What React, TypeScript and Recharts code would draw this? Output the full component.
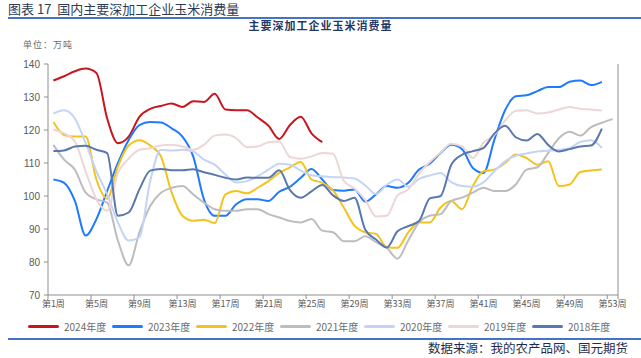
import React from 'react';
import { LineChart, Line, XAxis, YAxis, ReferenceLine } from 'recharts';

// ---- data ----
const weeks = [
  1, 2, 3, 4, 5, 6, 7, 8, 9, 10, 11, 12, 13, 14, 15, 16, 17, 18, 19, 20, 21, 22, 23, 24, 25, 26, 27,
  28, 29, 30, 31, 32, 33, 34, 35, 36, 37, 38, 39, 40, 41, 42, 43, 44, 45, 46, 47, 48, 49, 50, 51, 52, 53,
];
const xLabelWeeks = [1, 5, 9, 13, 17, 21, 25, 29, 33, 37, 41, 45, 49, 53];
const yTicks = [70, 80, 90, 100, 110, 120, 130, 140];

const y2024 = [135, 136.3, 137.8, 138.6, 137.3, 123.5, 116, 118, 124, 126.4, 127.3, 128, 127, 128.7, 128.5, 131, 126.2, 126, 126, 123.8, 121.3, 117.3, 121.5, 124, 119, 116.3];
const y2023 = [105, 104, 98.5, 88, 93, 101.5, 110, 117, 121.5, 122.4, 122.3, 120.5, 118, 112, 99, 94, 94, 97.5, 99, 99, 98.5, 101.3, 102.8, 105.5, 108.2, 105, 101.8, 101.6, 102, 98.3, 100.5, 103, 102.5, 104, 108, 109.8, 113, 115.5, 114.2, 108.5, 107, 117, 126, 130.2, 130.5, 131.8, 133, 133, 134.6, 135, 133.6, 134.6];
const y2022 = [122.4, 118.5, 118, 118, 105, 99.2, 109, 115.3, 116.9, 115.3, 112, 101, 94, 92.5, 92.8, 91.8, 100.5, 101.5, 100.8, 102.5, 104.5, 107, 108.7, 110.3, 105, 104, 101.7, 96.5, 91, 89, 88.5, 84.5, 84.3, 89, 92, 92, 96.5, 98.5, 96, 103, 107.5, 108, 110, 112.6, 111.5, 109.5, 110.5, 103, 103.5, 107.3, 107.7, 108];
const y2021 = [115.5, 111, 108, 101, 99, 98, 86.5, 79, 89, 97, 101, 102.5, 103, 100.5, 98, 96, 95.5, 95.5, 96, 96, 94.5, 93.5, 92.4, 92, 93, 89.5, 89, 86.3, 86.3, 87.8, 86, 84.3, 81, 86.5, 92, 94, 94.5, 98.5, 99.5, 101, 102.5, 101.5, 101.5, 103.5, 108, 108.7, 113, 117.5, 119.5, 118.3, 120.9, 122.2, 123.3];
const y2020 = [125, 126, 123.5, 116, 107.5, 100.5, 92, 86.5, 87.5, 104.5, 114, 113.8, 114, 113.5, 111, 109.5, 106.5, 104.1, 104.5, 106, 108, 109.8, 109.5, 107.7, 106.3, 106, 105.7, 105.6, 105.3, 103.2, 100.6, 103.4, 105, 102.8, 105.2, 106.2, 107, 104.2, 103, 102.8, 104.2, 107.5, 110.5, 112.2, 112.9, 113.5, 113.7, 114, 114.5, 116.4, 116.9, 114.6];
const y2019 = [120.1, 119, 116.5, 107.5, 99, 95.5, 107, 111.3, 114, 114.5, 115.3, 115.5, 115, 114, 115.5, 118.3, 118.6, 117.5, 114.8, 115, 116.3, 116.5, 111.8, 111.3, 112, 113, 112.8, 104.6, 102.3, 98.8, 93.8, 94, 100.2, 102, 106.8, 110.3, 113.2, 115.8, 115, 111.5, 116.2, 118.5, 122.8, 125.8, 126, 125, 125.3, 126.2, 127, 126.4, 126.2, 125.9];
const y2018 = [113.6, 113.8, 115, 115.2, 114, 113, 94, 95, 102, 107.7, 108.2, 107.8, 107.8, 108.1, 107.2, 106.4, 105.5, 105, 105.6, 105.5, 105.5, 107.8, 101.8, 99.5, 101.4, 103.3, 100.2, 98.5, 99.5, 89.8, 86.8, 84.4, 89.3, 90.9, 92.4, 99.3, 100, 109.5, 112.5, 113.6, 114.6, 118.9, 121.3, 117.8, 116.8, 118.8, 115.5, 113.5, 114.2, 115, 115.3, 120.4];

const seriesNames = ['2024年度', '2023年度', '2022年度', '2021年度', '2020年度', '2019年度', '2018年度'];
const seriesValues = [y2024, y2023, y2022, y2021, y2020, y2019, y2018];
const seriesColors = ['#C8161E', '#1F7AFF', '#F4C21C', '#BDBDBD', '#C3D4F6', '#EDD6D6', '#5878AE'];
const seriesKeys = ['s2024', 's2023', 's2022', 's2021', 's2020', 's2019', 's2018'];

const data = weeks.map((w, i) => {
  const row: Record<string, number | undefined> = { week: w };
  seriesKeys.forEach((k, s) => {
    row[k] = seriesValues[s][i];
  });
  return row;
});

// ---- style ----
const W = 641;
const H = 358;
const AXIS = '#8E8E8E';
const TICK_SIZE = 4;
const TICK_MARGIN = 2;
const FONT = '"Liberation Sans", Arial, "Noto Sans CJK SC", sans-serif';
const CJK = '"Noto Sans CJK SC", "Liberation Sans", sans-serif';

const XTick = (props: any) => {
  const { x, y, payload, width } = props;
  const band = (typeof width === 'number' && width > 0 ? width : 570) / weeks.length;
  const axisY = y - TICK_SIZE - TICK_MARGIN;
  const isLast = payload.value === weeks[weeks.length - 1];
  return (
    <g>
      <line x1={x - band / 2} x2={x - band / 2} y1={axisY} y2={axisY + TICK_SIZE} stroke={AXIS} />
      {isLast && (
        <line x1={x + band / 2} x2={x + band / 2} y1={axisY} y2={axisY + TICK_SIZE} stroke={AXIS} />
      )}
      <text x={x} y={y} dy="0.71em" textAnchor="middle" fontSize={9} fill="#595959" fontFamily={CJK}>
        {`第${payload.value}周`}
      </text>
    </g>
  );
};

export default function App() {
  return (
    <div style={{ position: 'absolute', left: 0, top: 0, width: W, height: H, background: '#fff', overflow: 'hidden' }}>
      <div style={{ position: 'absolute', left: 8, top: 0, fontSize: 13, lineHeight: '17px', color: '#2E3B55', fontFamily: CJK, whiteSpace: 'nowrap' }}>
        图表 17&nbsp;&nbsp;国内主要深加工企业玉米消费量
      </div>
      <div style={{ position: 'absolute', left: 8, top: 17, width: W - 8, height: 2, background: '#4472C4' }} />
      <div style={{ position: 'absolute', left: 0, top: 18, width: W, textAlign: 'center', fontSize: 11, lineHeight: '14px', fontWeight: 700, color: '#1F3864', fontFamily: CJK, letterSpacing: 1 }}>
        主要深加工企业玉米消费量
      </div>
      <div style={{ position: 'absolute', left: 23, top: 39, fontSize: 9, lineHeight: '12px', color: '#6B6B6B', fontFamily: CJK, letterSpacing: 1 }}>
        单位：万吨
      </div>

      <div style={{ position: 'absolute', left: 0, top: 0 }}>
        <LineChart width={W} height={H} data={data} margin={{ top: 64, right: 23, bottom: 43, left: 8 }}>
          <XAxis
            dataKey="week"
            type="number"
            domain={[0.5, 53.5]}
            ticks={xLabelWeeks}
            interval={0}
            allowDataOverflow
            stroke={AXIS}
            tickLine={false}
            tickSize={TICK_SIZE}
            tickMargin={TICK_MARGIN}
            height={20}
            tick={<XTick />}
          />
          <YAxis
            type="number"
            domain={[70, 140]}
            ticks={yTicks}
            interval={0}
            width={40}
            stroke={AXIS}
            tickSize={TICK_SIZE}
            tickMargin={4}
            tick={{ fontSize: 10, fill: '#595959', fontFamily: FONT }}
          />
          <ReferenceLine x={53.5} stroke={AXIS} ifOverflow="extendDomain" />
          {seriesKeys.map((k, i) => (
            <Line
              key={k}
              dataKey={k}
              name={seriesNames[i]}
              type="monotone"
              stroke={seriesColors[i]}
              strokeWidth={2}
              dot={false}
              activeDot={false}
              isAnimationActive={false}
              connectNulls={false}
            />
          ))}
        </LineChart>
      </div>

      <div style={{ position: 'absolute', left: 0, top: 319, width: W, height: 14 }}>
        {seriesNames.map((n, i) => (
          <div key={n} style={{ position: 'absolute', left: 28 + i * 84, top: 0, height: 14, display: 'flex', alignItems: 'center', whiteSpace: 'nowrap' }}>
            <div style={{ width: 31, height: 3, borderRadius: 2, background: seriesColors[i] }} />
            <span style={{ marginLeft: 5, fontSize: 10, color: '#6B6B6B', fontFamily: CJK }}>{n}</span>
          </div>
        ))}
      </div>

      <div style={{ position: 'absolute', left: 8, top: 338, width: W - 8, height: 2, background: '#4472C4' }} />
      <div style={{ position: 'absolute', right: 13, top: 339, fontSize: 12.5, lineHeight: '17px', color: '#1F2D4D', fontFamily: CJK, whiteSpace: 'nowrap' }}>
        数据来源：我的农产品网、国元期货
      </div>
    </div>
  );
}
